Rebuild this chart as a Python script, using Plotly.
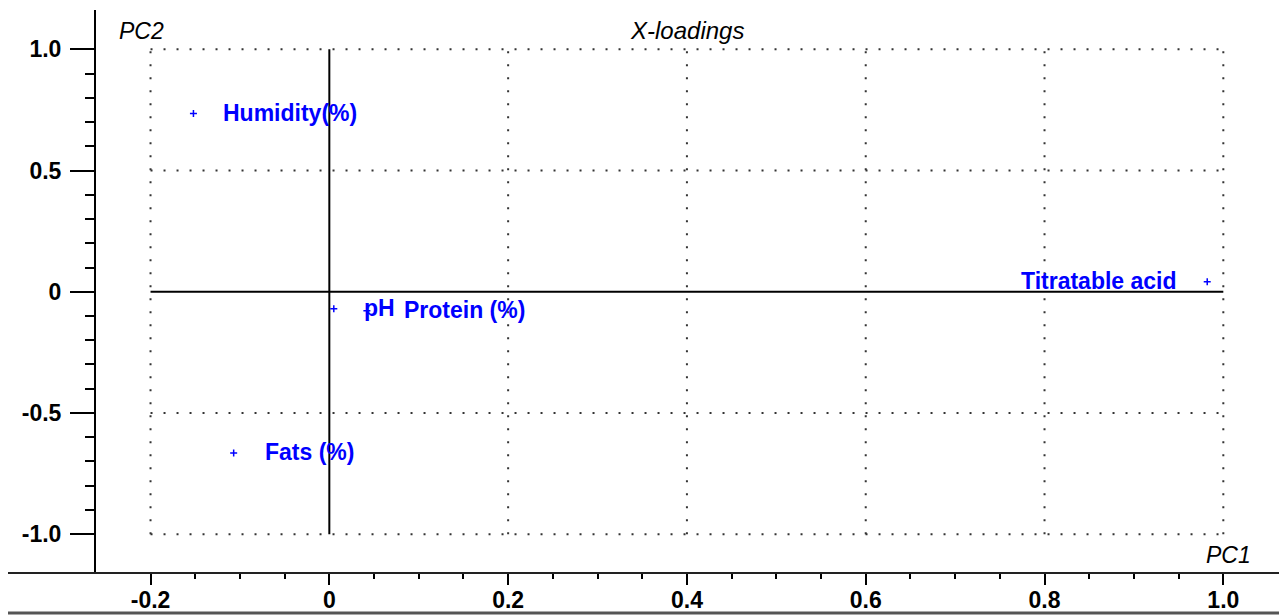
import numpy as np
import plotly.graph_objects as go

# ---- data ----
variables = ["Humidity(%)", "Fats (%)", "pH", "Protein (%)", "Titratable acid"]
pc1 = [-0.152, -0.107, 0.005, 0.042, 0.982]
pc2 = [0.735, -0.665, -0.070, -0.078, 0.041]

x_tickvals = [-0.2, 0, 0.2, 0.4, 0.6, 0.8, 1.0]
x_ticktext = ["-0.2", "0", "0.2", "0.4", "0.6", "0.8", "1.0"]
y_tickvals = [-1.0, -0.5, 0, 0.5, 1.0]
y_ticktext = ["-1.0", "-0.5", "0", "0.5", "1.0"]

# label placement (styling)
label_side = ["right", "right", "right", "right", "left"]
label_shift = [28, 29, 28, 35, -28]

BLUE = "#0000FF"
FONT = "Liberation Sans"

fig = go.Figure()
fig.add_trace(go.Scatter(
    x=pc1, y=pc2, mode="markers",
    marker=dict(symbol="cross-thin", size=5, color=BLUE,
                line=dict(color=BLUE, width=1.5)),
    hoverinfo="skip", showlegend=False,
))

for name, x, y, side, sh in zip(variables, pc1, pc2, label_side, label_shift):
    fig.add_annotation(
        x=x, y=y, text=name, showarrow=False,
        xanchor="left" if side == "right" else "right", yanchor="middle",
        xshift=sh, yshift=1,
        font=dict(family=FONT, size=23, color=BLUE, weight="bold"),
    )

# grid rectangle bounded by the tick extents
gx0, gx1 = min(x_tickvals), max(x_tickvals)
gy0, gy1 = min(y_tickvals), max(y_tickvals)
dot = dict(color="#333333", width=2, dash="2px,11px")
for v in x_tickvals:
    if v == 0:
        continue
    fig.add_shape(type="line", x0=v, x1=v, y0=gy0, y1=gy1, line=dot, layer="below")
for v in y_tickvals:
    if v == 0:
        continue
    fig.add_shape(type="line", x0=gx0, x1=gx1, y0=v, y1=v, line=dot, layer="below")
# solid zero lines
fig.add_shape(type="line", x0=0, x1=0, y0=gy0, y1=gy1,
              line=dict(color="black", width=2), layer="below")
fig.add_shape(type="line", x0=gx0, x1=gx1, y0=0, y1=0,
              line=dict(color="black", width=2), layer="below")

# extended bottom axis line and frame line
fig.add_shape(type="line", xref="paper", yref="paper", x0=-0.077, x1=1.0, y0=0, y1=0,
              line=dict(color="#222222", width=2))
fig.add_shape(type="line", xref="paper", yref="paper", x0=-0.077, x1=1.0, y0=-0.071, y1=-0.071,
              line=dict(color="#555555", width=3))

# axis titles / chart title
fig.add_annotation(xref="paper", yref="paper", x=0.018, y=0.963, text="PC2", showarrow=False,
                   xanchor="left", yanchor="middle",
                   font=dict(family=FONT, size=23, color="black", style="italic"))
fig.add_annotation(xref="paper", yref="paper", x=0.499, y=0.963, text="X-loadings", showarrow=False,
                   xanchor="center", yanchor="middle",
                   font=dict(family=FONT, size=24, color="black", style="italic"))
fig.add_annotation(xref="paper", yref="paper", x=0.977, y=0.032, text="PC1", showarrow=False,
                   xanchor="right", yanchor="middle",
                   font=dict(family=FONT, size=23, color="black", style="italic"))

tickfont = dict(family=FONT, size=23, color="black", weight="bold")
fig.update_layout(
    width=1287, height=616,
    margin=dict(l=88, r=15, t=2, b=51),
    paper_bgcolor="white", plot_bgcolor="white",
    xaxis=dict(
        range=[-0.261, 1.0634], showgrid=False, zeroline=False,
        showline=False, automargin=False,
        tickmode="array", tickvals=x_tickvals, ticktext=x_ticktext,
        ticks="outside", ticklen=11, tickwidth=2, tickcolor="black",
        tickfont=tickfont, ticklabelstandoff=-5,
        minor=dict(tickmode="array", tickvals=list(np.round(np.arange(-0.2, 1.0001, 0.05), 2)),
                   ticks="outside", ticklen=5, tickwidth=2, tickcolor="black", showgrid=False),
    ),
    yaxis=dict(
        range=[-1.160, 1.162], showgrid=False, zeroline=False,
        showline=True, linecolor="black", linewidth=2, automargin=False,
        tickmode="array", tickvals=y_tickvals, ticktext=y_ticktext,
        ticks="outside", ticklen=24, tickwidth=2, tickcolor="black",
        tickfont=tickfont, ticklabelstandoff=4,
        minor=dict(tickmode="array", tickvals=list(np.round(np.arange(-1.0, 1.0001, 0.1), 2)),
                   ticks="outside", ticklen=9, tickwidth=2, tickcolor="black", showgrid=False),
    ),
)

fig.write_html("out.html")
